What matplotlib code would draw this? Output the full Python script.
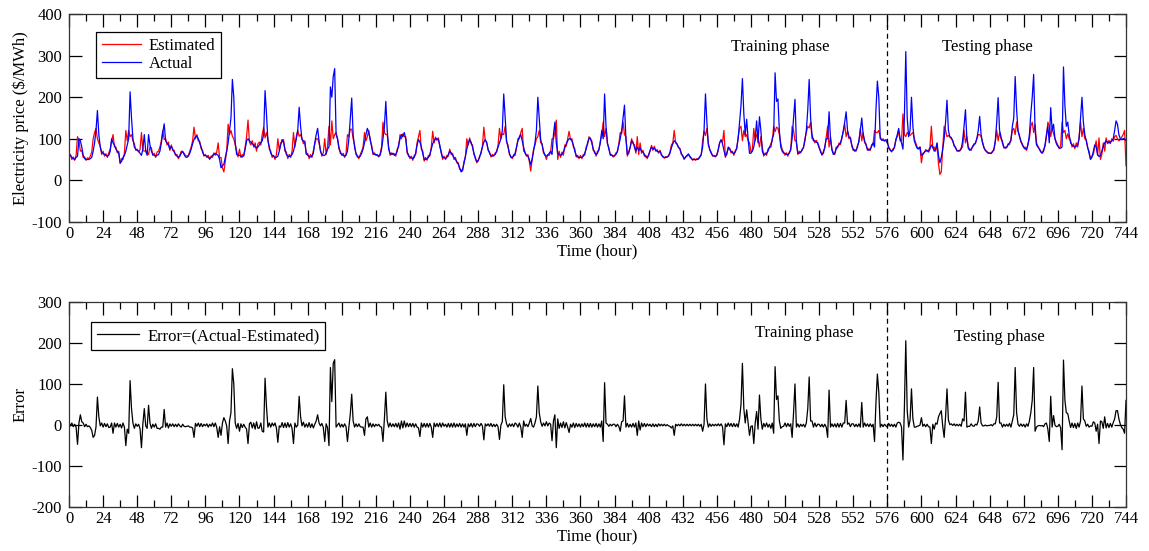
import matplotlib
matplotlib.use("Agg")
import matplotlib.pyplot as plt
import numpy as np
from matplotlib.ticker import MultipleLocator

plt.rcParams['font.family'] = ['Liberation Serif', 'DejaVu Serif']
plt.rcParams['axes.unicode_minus'] = False

# ---------------- data (hourly, 0..744) ----------------
actual_price = [
    64,60,55,52,50,55,58,100,95,80,60,52,50,50,50,52,55,70,90,120,168,110,80,67,
    65,62,60,58,60,70,100,90,85,75,70,65,42,45,55,60,70,85,100,213,150,100,80,75,
    72,70,65,60,75,110,70,60,110,85,70,62,60,58,60,62,70,90,115,136,95,90,85,75,
    82,75,68,62,58,55,58,65,70,62,56,55,58,65,75,88,98,104,107,100,90,80,68,60,
    60,58,55,52,55,60,62,65,62,60,50,30,35,38,55,70,90,120,150,243,200,90,62,60,
    60,58,56,60,75,95,100,95,92,88,85,80,78,80,85,90,95,110,216,160,95,80,65,60,
    58,55,55,58,70,85,98,92,75,62,58,57,58,62,70,85,100,120,176,130,98,95,90,65,
    60,58,56,58,65,90,110,125,95,70,62,60,60,65,75,80,225,200,250,269,110,100,80,65,
    62,60,58,60,70,100,150,198,110,80,65,56,55,58,65,75,90,110,125,115,100,80,65,62,
    62,60,58,60,75,100,130,190,120,75,65,62,65,60,62,70,85,100,110,105,115,100,70,58,
    56,54,52,55,65,85,98,92,80,65,50,50,52,55,62,75,88,95,100,100,98,85,65,55,
    55,52,55,62,70,66,60,55,50,45,38,30,20,25,40,58,75,88,98,92,80,66,52,45,
    48,55,68,80,92,98,90,75,65,60,58,60,62,70,80,90,100,120,208,150,95,80,65,55,
    55,58,65,80,95,105,110,95,80,65,60,58,50,38,50,70,90,120,200,150,98,85,70,60,
    58,60,65,70,62,110,140,90,65,62,60,62,68,78,88,95,100,100,95,85,70,60,56,55,
    55,55,58,65,75,90,100,102,90,75,66,62,65,75,90,120,100,208,130,90,75,62,60,58,
    60,62,70,85,100,120,150,181,100,62,65,80,95,92,80,70,80,72,78,70,68,62,56,55,
    60,72,80,75,78,72,70,68,70,62,56,55,55,56,58,65,78,88,95,92,86,80,75,65,
    58,52,55,60,62,58,52,50,50,50,50,52,55,62,80,120,208,140,85,75,65,60,58,58,
    60,75,90,98,88,72,58,62,80,75,70,66,64,68,78,100,140,180,245,160,110,147,100,65,
    65,70,80,100,143,90,153,120,70,62,62,65,70,80,80,100,110,259,190,196,120,80,70,65,
    65,62,62,65,75,100,150,195,90,65,65,68,72,80,95,120,170,243,150,110,95,95,92,90,
    80,68,62,65,80,100,100,165,100,75,62,65,75,82,85,90,100,120,140,165,120,105,100,85,
    75,70,72,80,95,120,150,110,95,85,75,72,75,82,90,80,170,239,200,100,98,96,96,96,
    90,80,72,70,72,80,95,110,125,100,90,75,150,310,150,105,120,200,130,95,85,77,75,80,
    60,62,68,70,72,68,75,85,80,70,75,90,60,42,55,75,100,140,193,120,105,103,95,85,
    78,72,70,72,75,95,130,170,100,77,72,75,80,85,90,100,120,154,110,90,78,72,68,65,
    65,65,68,75,95,140,199,120,105,90,80,77,80,85,90,95,130,150,250,170,120,105,95,85,
    80,75,75,85,110,160,200,255,120,85,80,75,68,65,70,85,110,130,90,175,120,135,100,88,
    82,78,77,80,273,180,130,140,110,90,85,82,80,82,85,100,150,200,140,110,95,80,65,50,
    55,70,85,80,62,57,60,70,82,90,95,92,90,92,95,100,120,143,135,110,100,98,100,100,
    95,
]

estimated_price = [
    58,62,50,56,48,60,105,95,70,72,55,56,48,54,52,58,68,100,115,125,100,90,82,62,
    70,58,64,55,66,75,95,110,80,80,66,70,40,52,50,65,120,95,120,105,110,95,88,72,
    75,68,74,115,72,70,72,68,62,80,78,60,65,55,68,70,80,95,120,98,100,85,92,72,
    85,72,72,60,62,52,60,70,68,65,60,58,60,70,80,95,128,100,110,95,94,76,72,58,
    62,55,60,50,58,55,66,60,68,90,54,55,30,20,45,72,135,110,120,106,100,85,70,56,
    75,55,62,58,80,105,145,92,85,95,80,90,70,88,92,85,110,127,102,115,100,75,70,55,
    60,50,62,100,72,90,92,98,70,68,52,62,55,70,115,80,105,120,106,110,100,88,95,62,
    65,52,62,55,72,88,100,100,90,72,58,66,100,62,82,130,85,143,100,110,115,100,75,70,
    60,65,55,64,110,105,123,123,100,85,62,60,52,62,70,80,115,95,105,120,95,85,62,66,
    60,62,56,64,80,140,115,110,110,80,60,66,62,64,58,75,80,110,100,112,105,105,65,62,
    52,58,48,60,62,90,105,120,75,70,46,55,48,60,58,80,118,90,104,96,102,80,70,50,
    58,50,60,58,75,62,65,50,55,42,42,26,25,22,45,55,100,85,102,88,85,62,56,42,
    46,58,64,82,128,95,92,72,68,56,62,58,66,68,84,125,100,112,110,130,92,85,62,58,
    52,62,60,78,100,100,115,125,70,68,58,62,45,22,52,75,85,100,105,120,90,88,65,62,
    50,62,60,68,100,100,115,145,50,70,55,68,60,85,82,100,118,98,100,80,76,56,60,52,
    60,52,62,60,80,86,105,98,95,72,70,58,70,72,95,110,140,105,125,88,78,60,62,56,
    58,66,68,88,115,112,140,110,105,58,70,78,100,88,85,65,105,62,90,65,72,58,60,52,
    62,70,84,72,82,70,74,65,72,60,58,53,57,55,60,68,85,90,120,90,88,78,77,62,
    60,50,57,58,64,56,54,48,52,48,52,50,58,60,95,118,108,125,90,72,68,58,60,56,
    62,72,92,95,92,120,55,66,75,78,66,70,60,72,75,105,125,130,95,120,105,110,95,90,
    68,72,125,95,110,100,80,105,80,58,66,60,75,78,88,95,130,117,128,125,110,88,74,68,
    60,66,58,68,72,130,120,95,95,62,70,66,75,78,100,115,130,126,140,100,100,90,96,88,
    78,72,60,70,78,105,130,80,105,72,66,62,80,78,90,86,105,115,135,105,118,100,104,82,
    72,74,70,84,92,125,95,115,90,88,72,76,72,86,88,120,115,115,120,105,96,100,94,98,
    95,76,75,68,76,78,100,105,118,95,95,160,110,105,115,110,108,112,115,100,90,80,77,80,
    42,65,66,74,70,72,80,130,78,80,70,88,40,14,20,78,130,120,105,108,104,100,96,82,
    80,70,72,70,78,80,120,90,105,80,75,72,82,88,88,100,110,110,105,92,80,72,70,66,
    66,64,70,72,92,120,95,115,100,95,78,80,78,88,86,100,120,125,110,140,118,108,92,88,
    78,80,72,88,100,130,140,115,135,90,82,76,70,66,74,82,105,140,130,105,125,112,100,92,
    85,76,84,140,115,120,100,112,100,96,80,88,76,90,80,105,140,105,125,100,98,78,70,52,
    58,62,80,95,60,102,50,62,90,70,102,88,96,88,100,94,105,108,100,95,98,104,110,120,
    35,
]

split_hour = 576
x_tick_labels = [str(v) for v in range(0, 745, 24)]
price_yticks = [-100, 0, 100, 200, 300, 400]
error_yticks = [-200, -100, 0, 100, 200, 300]

# ---------------- figure ----------------
hours = np.arange(len(actual_price))
act = np.array(actual_price, dtype=float)
est = np.array(estimated_price, dtype=float)
err = act - est

W, H = 1149, 551
fig = plt.figure(figsize=(W / 100, H / 100), dpi=100)

def ax_rect(x0, y0, x1, y1):
    return [x0 / W, 1 - y1 / H, (x1 - x0) / W, (y1 - y0) / H]

ax1 = fig.add_axes(ax_rect(69, 14.3, 1126, 221.7))
ax2 = fig.add_axes(ax_rect(69, 301.7, 1126, 507.3))

FS = 12

def style(ax, yticks):
    ax.set_xlim(0, 744)
    ax.set_ylim(yticks[0], yticks[-1])
    ax.set_xticks(range(0, 745, 24))
    ax.set_xticklabels(x_tick_labels)
    ax.xaxis.set_minor_locator(MultipleLocator(12))
    ax.set_yticks(yticks)
    ax.set_yticklabels([str(v) for v in yticks])
    ax.tick_params(axis='x', which='major', direction='in', top=True, bottom=True,
                   length=9, width=0.9, labelsize=FS, pad=3)
    ax.tick_params(axis='x', which='minor', direction='in', top=True, bottom=True,
                   length=5, width=0.9)
    ax.tick_params(axis='y', which='major', direction='in', left=True, right=True,
                   length=9, width=0.9, labelsize=FS, pad=5)
    for s in ax.spines.values():
        s.set_linewidth(0.9)
        s.set_color('#333333')
    ax.axvline(split_hour, color='black', lw=0.9, linestyle=(0, (4, 3)))

ax1.plot(hours, est, color='#ff0000', lw=0.9, label='Estimated')
ax1.plot(hours, act, color='#0000ff', lw=0.9, label='Actual')
style(ax1, price_yticks)
ax1.set_xlabel('Time (hour)', fontsize=FS, labelpad=1)
ax1.set_ylabel('Electricity price ($/MWh)', fontsize=FS, labelpad=2)
leg1 = ax1.legend(loc='upper left', bbox_to_anchor=(0.026, 0.915), fontsize=FS,
                  frameon=True, fancybox=False, edgecolor='black', framealpha=1,
                  handlelength=2.3, handletextpad=0.5, labelspacing=0.15,
                  borderpad=0.35, borderaxespad=0)
leg1.get_frame().set_linewidth(0.9)
ax1.text(500.5, 321, 'Training phase', fontsize=FS, ha='center', va='center')
ax1.text(646.5, 321, 'Testing phase', fontsize=FS, ha='center', va='center')

ax2.plot(hours, err, color='black', lw=0.9, label='Error=(Actual-Estimated)')
style(ax2, error_yticks)
ax2.set_xlabel('Time (hour)', fontsize=FS, labelpad=1)
ax2.set_ylabel('Error', fontsize=FS, labelpad=2)
leg2 = ax2.legend(loc='upper left', bbox_to_anchor=(0.021, 0.9), fontsize=FS,
                  frameon=True, fancybox=False, edgecolor='black', framealpha=1,
                  handlelength=2.5, handletextpad=0.5, borderpad=0.35,
                  borderaxespad=0)
leg2.get_frame().set_linewidth(0.9)
ax2.text(517.5, 224, 'Training phase', fontsize=FS, ha='center', va='center')
ax2.text(655, 214, 'Testing phase', fontsize=FS, ha='center', va='center')

fig.savefig('out.png', dpi=100)
